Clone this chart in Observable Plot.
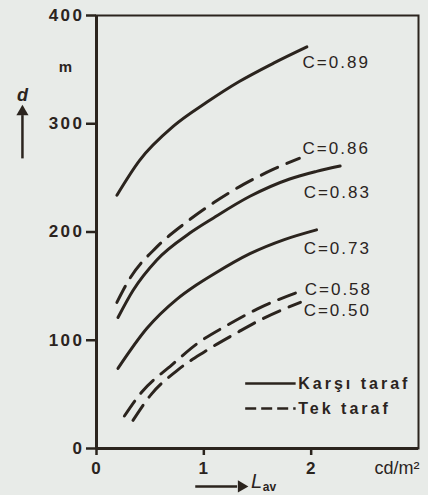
<!DOCTYPE html>
<html><head><meta charset="utf-8">
<script src="https://cdn.jsdelivr.net/npm/d3@7"></script>
<script src="https://cdn.jsdelivr.net/npm/@observablehq/plot@0.6"></script>
<style>
html,body{margin:0;padding:0;background:#e8ebe8;}
#chart svg{display:block;}
#chart g[aria-label="y-axis tick label"] text{letter-spacing:2.5px;}
#chart g[aria-label="x-axis tick label"] text{letter-spacing:1px;}
</style></head><body><div id="chart"></div>
<script>
// Axis ticks
const xTicks = [0, 1, 2];
const yTicks = [0, 100, 200, 300, 400];

// Series (C value, side type) and values
const seriesC    = ["0.89", "0.86", "0.83", "0.73", "0.58", "0.50"];
const seriesSide = ["Karşı taraf", "Tek taraf", "Karşı taraf", "Karşı taraf", "Tek taraf", "Tek taraf"];

const Lav_089 = [0.19, 0.40, 0.72, 1.03, 1.33, 1.65, 1.96];
const d_089   = [234, 266, 298, 320, 339, 356, 371];

const Lav_086 = [0.19, 0.31, 0.56, 0.81, 1.09, 1.37, 1.65, 1.89];
const d_086   = [135, 157, 186, 207, 227, 244, 258, 268];

const Lav_083 = [0.20, 0.34, 0.56, 0.87, 1.09, 1.43, 1.80, 2.05, 2.27];
const d_083   = [121, 146, 174, 199, 213, 233, 249, 256, 261];

const Lav_073 = [0.20, 0.47, 0.75, 0.93, 1.09, 1.43, 1.75, 2.05];
const d_073   = [74, 111, 138, 151, 161, 180, 193, 202];

const Lav_058 = [0.26, 0.42, 0.70, 0.94, 1.22, 1.50, 1.92];
const d_058   = [30, 52, 77, 97, 114, 129, 146];

const Lav_050 = [0.34, 0.51, 0.75, 1.00, 1.31, 1.55, 1.90];
const d_050   = [26, 50, 72, 89, 107, 120, 135];

// Curve label anchors (in data units)
const labelLav = [1.92, 1.92, 1.93, 1.93, 1.94, 1.93];
const labelD   = [357, 277, 236, 185, 147, 127];

// Legend entries
const legendLabels = ["Karşı taraf", "Tek taraf"];

const allL = [Lav_089, Lav_086, Lav_083, Lav_073, Lav_058, Lav_050];
const allD = [d_089, d_086, d_083, d_073, d_058, d_050];
const rows = [];
seriesC.forEach((c, i) => allL[i].forEach((L, j) => rows.push({C: c, side: seriesSide[i], L, d: allD[i][j]})));
const solidRows = rows.filter(r => r.side === "Karşı taraf");
const dashRows = rows.filter(r => r.side === "Tek taraf");
const labels = seriesC.map((c, i) => ({text: "C=" + c, L: labelLav[i], d: labelD[i]}));

const ink = "#2b241e";
const curveFont = "'Liberation Sans', Arial, sans-serif";

const chart = Plot.plot({
  width: 428,
  height: 495,
  marginLeft: 96,
  marginRight: 10,
  marginTop: 15,
  marginBottom: 47,
  style: {background: "transparent", color: ink, fontFamily: curveFont, overflow: "visible"},
  x: {domain: [0, 3], ticks: xTicks},
  y: {domain: [0, 400], ticks: yTicks},
  marks: [
    Plot.frame({stroke: ink, strokeWidth: 2}),
    Plot.axisY(yTicks, {tickSize: 10, tickPadding: 2, fontSize: 17, fontWeight: "bold", strokeWidth: 2.5, label: null}),
    Plot.axisX(xTicks, {tickSize: 7, tickPadding: 6, fontSize: 17, fontWeight: "bold", strokeWidth: 2.5, label: null}),
    Plot.ruleX([0], {stroke: ink, strokeWidth: 3}),
    Plot.ruleY([0], {stroke: ink, strokeWidth: 3}),
    Plot.line(solidRows, {x: "L", y: "d", z: "C", curve: "monotone-x", stroke: ink, strokeWidth: 3, strokeLinecap: "round"}),
    Plot.line(dashRows, {x: "L", y: "d", z: "C", curve: "monotone-x", stroke: ink, strokeWidth: 3, strokeLinecap: "round", strokeDasharray: "18,10"}),
    Plot.text(labels, {x: "L", y: "d", text: "text", textAnchor: "start", fontSize: 17, fill: ink}),
    // legend
    Plot.ruleY([60], {x1: 1.39, x2: 1.86, stroke: ink, strokeWidth: 2.5}),
    Plot.ruleY([37], {x1: 1.39, x2: 1.86, stroke: ink, strokeWidth: 2.5, strokeDasharray: "11,5"}),
    Plot.text(legendLabels, {x: 1.88, y: [60, 37], text: d => d, textAnchor: "start", fontSize: 16, fontWeight: "bold", fill: ink}),
    // axis annotations
    Plot.text(["m"], {x: -0.29, y: 352, fontSize: 15, fontWeight: "bold", fill: ink}),
    Plot.text(["d"], {x: -0.69, y: 326, fontSize: 18, fontStyle: "italic", fontWeight: "bold", fill: ink}),
    Plot.link([0], {x1: -0.69, x2: -0.69, y1: 268, y2: 308, stroke: ink, strokeWidth: 2.5}),
    Plot.dot([0], {x: -0.69, y: 311, symbol: "triangle", r: 4.5, fill: ink, stroke: null}),
    Plot.link([0], {x1: 0.92, x2: 1.31, y1: -35, y2: -35, stroke: ink, strokeWidth: 2.5}),
    Plot.dot([0], {x: 1.35, y: -35, symbol: "triangle", r: 4.5, rotate: 90, fill: ink, stroke: null}),
    Plot.text(["L"], {x: 1.44, y: -31, textAnchor: "start", fontSize: 20, fontStyle: "italic", fill: ink}),
    Plot.text(["av"], {x: 1.55, y: -36, textAnchor: "start", fontSize: 12, fontWeight: "bold", fill: ink}),
    Plot.text(["cd/m²"], {x: 2.59, y: -18, textAnchor: "start", fontSize: 18, fill: ink})
  ]
});
d3.select(chart).selectAll("text")
  .filter(function() { return this.textContent.startsWith("C="); })
  .attr("letter-spacing", "2px");
d3.select(chart).selectAll("text")
  .filter(function() { return legendLabels.includes(this.textContent); })
  .attr("letter-spacing", "3px");
document.getElementById("chart").appendChild(chart);
</script>
</body></html>
